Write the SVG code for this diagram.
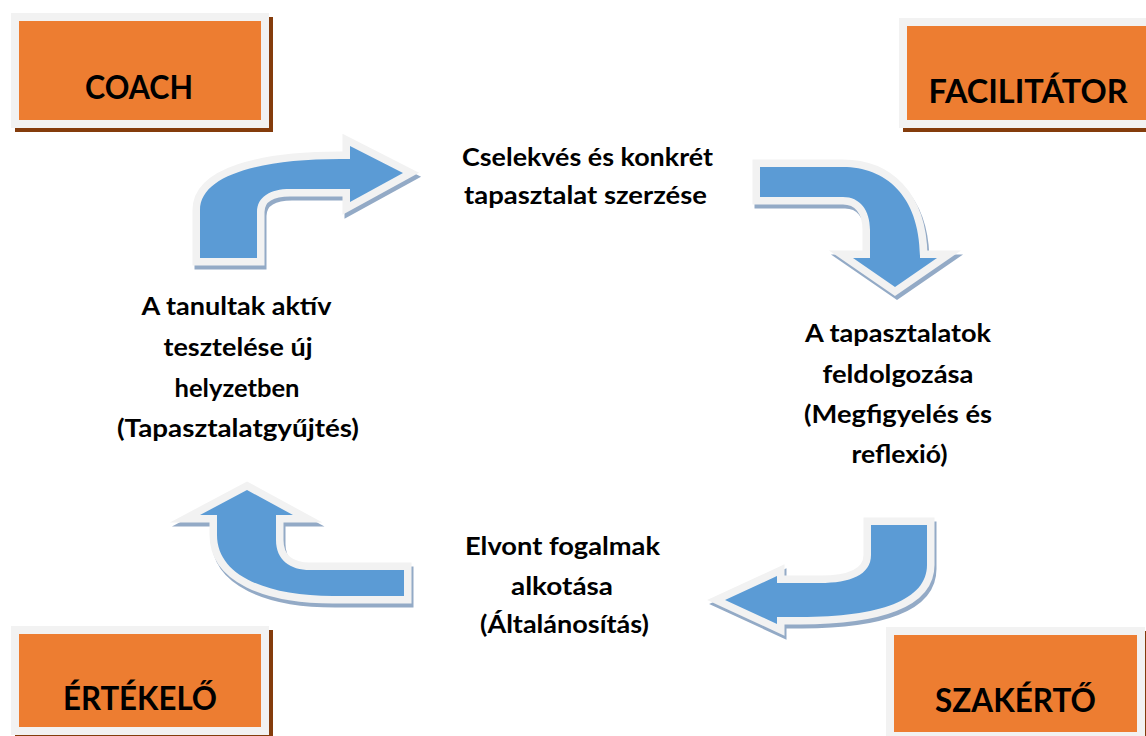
<svg xmlns="http://www.w3.org/2000/svg" width="1146" height="736" viewBox="0 0 1146 736">
<style>
.bg{fill:#ffffff}
.sh{fill:#843c0c}
.gr{fill:#f2f2f2}
.or{fill:#ed7d31}
.lbl{font-family:Lato,"Liberation Sans",sans-serif;font-weight:bold;font-size:33px;fill:#000;text-anchor:middle}
.txt{font-family:Lato,"Liberation Sans",sans-serif;font-weight:bold;font-size:25px;fill:#000;text-anchor:middle}
.arr{fill:#5b9bd5;stroke:#f2f2f2;stroke-width:15;stroke-linejoin:miter;stroke-miterlimit:6;paint-order:stroke}
.ash{fill:#93aac6;stroke:#93aac6;stroke-width:15;stroke-linejoin:miter;stroke-miterlimit:6}
</style>
<rect class="bg" x="0" y="0" width="1146" height="736"/>

<g id="connectors">
  <g id="arrow-top-left">
    <path class="ash" transform="translate(2,4)" d="M200,258 L200,210 C200,175 260,159 340,159 L350,159 L350,146 L403,173 L350,202 L350,189 L290,189 C270,189 257,197 257,212 L257,258 Z"/>
    <path class="arr" d="M200,258 L200,210 C200,175 260,159 340,159 L350,159 L350,146 L403,173 L350,202 L350,189 L290,189 C270,189 257,197 257,212 L257,258 Z"/>
  </g>
  <g id="arrow-top-right">
    <path class="ash" transform="translate(2,4)" d="M760,167 L843,167 C885,167 920,195 920,258 L937,258 L895,287 L853,258 L870,258 L870,230 C870,210 860,197 843,197 L760,197 Z"/>
    <path class="arr" d="M760,167 L843,167 C885,167 920,195 920,258 L937,258 L895,287 L853,258 L870,258 L870,230 C870,210 860,197 843,197 L760,197 Z"/>
  </g>
  <g id="arrow-bottom-right">
    <path class="ash" transform="translate(2,4)" d="M871,525 L927,525 L927,565 C927,600 880,617 800,617 L777,617 L777,624 L725,600 L777,576 L777,583 L820,583 C850,583 871,575 871,555 Z"/>
    <path class="arr" d="M871,525 L927,525 L927,565 C927,600 880,617 800,617 L777,617 L777,624 L725,600 L777,576 L777,583 L820,583 C850,583 871,575 871,555 Z"/>
  </g>
  <g id="arrow-bottom-left">
    <path class="ash" transform="translate(2,4)" d="M217,515 L217,535 C217,575 265,596 333,596 L404,596 L404,570 L310,570 C290,570 276,560 276,540 L276,515 L293,515 L247,490 L200,515 Z"/>
    <path class="arr" d="M217,515 L217,535 C217,575 265,596 333,596 L404,596 L404,570 L310,570 C290,570 276,560 276,540 L276,515 L293,515 L247,490 L200,515 Z"/>
  </g>
</g>

<g id="coach">
  <rect class="sh" x="15" y="17" width="258" height="115"/>
  <rect class="gr" x="11" y="13" width="258" height="115"/>
  <rect class="or" x="19" y="21" width="242" height="99"/>
  <text class="lbl" x="139" y="99" textLength="108" lengthAdjust="spacingAndGlyphs">COACH</text>
</g>
<g id="facilitator">
  <rect class="sh" x="903" y="22" width="258" height="110"/>
  <rect class="gr" x="899" y="18" width="258" height="110"/>
  <rect class="or" x="907" y="26" width="242" height="94"/>
  <text class="lbl" x="1028" y="103" textLength="199" lengthAdjust="spacingAndGlyphs">FACILITÁTOR</text>
</g>
<g id="ertekelo">
  <rect class="sh" x="15" y="630" width="258" height="109"/>
  <rect class="gr" x="11" y="626" width="258" height="109"/>
  <rect class="or" x="19" y="634" width="242" height="93"/>
  <text class="lbl" x="140" y="710" textLength="154" lengthAdjust="spacingAndGlyphs">ÉRTÉKELŐ</text>
</g>
<g id="szakerto">
  <rect class="sh" x="890" y="631" width="259" height="113"/>
  <rect class="gr" x="886" y="627" width="259" height="113"/>
  <rect class="or" x="894" y="635" width="243" height="97"/>
  <text class="lbl" x="1015.5" y="712" textLength="161" lengthAdjust="spacingAndGlyphs">SZAKÉRTŐ</text>
</g>

<g id="step-experience">
  <text class="txt" x="587.5" y="166" textLength="251" lengthAdjust="spacingAndGlyphs">Cselekvés és konkrét</text>
  <text class="txt" x="585.5" y="204" textLength="243" lengthAdjust="spacingAndGlyphs">tapasztalat szerzése</text>
</g>
<g id="step-reflection">
  <text class="txt" x="898" y="342" textLength="186" lengthAdjust="spacingAndGlyphs">A tapasztalatok</text>
  <text class="txt" x="898" y="383" textLength="151" lengthAdjust="spacingAndGlyphs">feldolgozása</text>
  <text class="txt" x="898" y="423" textLength="188" lengthAdjust="spacingAndGlyphs">(Megfigyelés és</text>
  <text class="txt" x="899.5" y="463" textLength="96" lengthAdjust="spacingAndGlyphs">reflexió)</text>
</g>
<g id="step-concepts">
  <text class="txt" x="562.5" y="555" textLength="195" lengthAdjust="spacingAndGlyphs">Elvont fogalmak</text>
  <text class="txt" x="562" y="595" textLength="102" lengthAdjust="spacingAndGlyphs">alkotása</text>
  <text class="txt" x="564.5" y="633" textLength="169" lengthAdjust="spacingAndGlyphs">(Általánosítás)</text>
</g>
<g id="step-testing">
  <text class="txt" x="236.5" y="315" textLength="190" lengthAdjust="spacingAndGlyphs">A tanultak aktív</text>
  <text class="txt" x="238" y="356" textLength="149" lengthAdjust="spacingAndGlyphs">tesztelése új</text>
  <text class="txt" x="237" y="397" textLength="125" lengthAdjust="spacingAndGlyphs">helyzetben</text>
  <text class="txt" x="238" y="437" textLength="242" lengthAdjust="spacingAndGlyphs">(Tapasztalatgyűjtés)</text>
</g>
</svg>
